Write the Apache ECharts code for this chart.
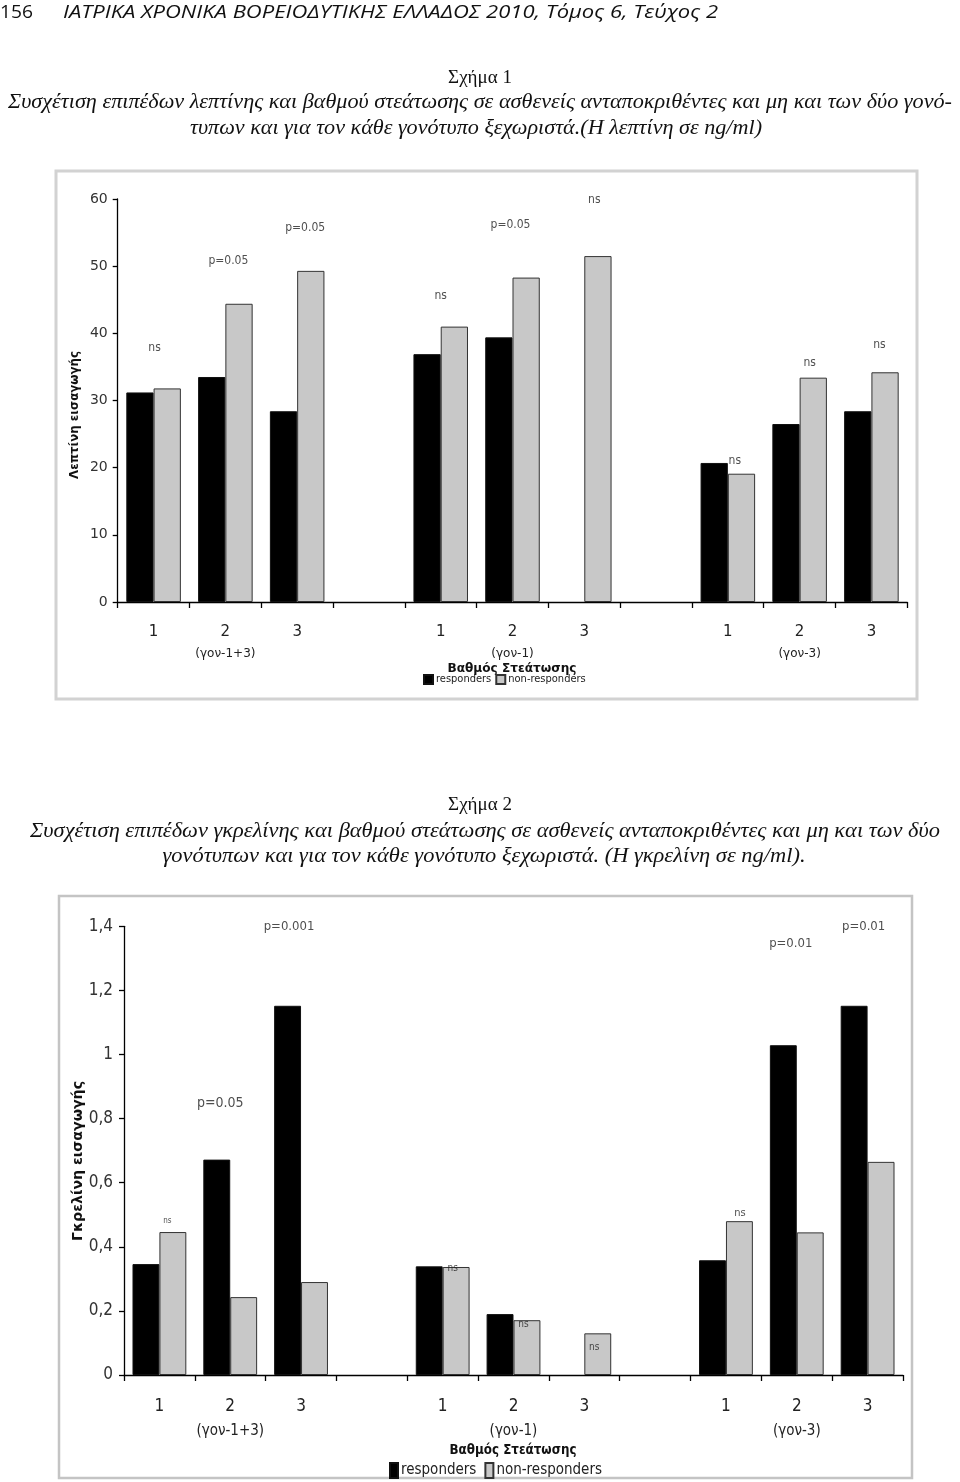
<!DOCTYPE html>
<html><head><meta charset="utf-8">
<script src="https://cdn.jsdelivr.net/npm/echarts@6.0.0/dist/echarts.min.js"></script>
<style>html,body{margin:0;padding:0;background:#fff}#c{width:960px;height:1482px}</style>
</head><body><div id="c"></div>
<script>
// ---------------- DATA ----------------
const categories = ['1','2','3','','1','2','3','','1','2','3'];
const groupLabels = ['', '(γον-1+3)', '', '', '', '(γον-1)', '', '', '', '(γον-3)', ''];
const seriesNames = ['responders', 'non-responders'];

const leptinResponders    = [31.2, 33.5, 28.4, null, 36.9, 39.4, null, null, 20.7, 26.5, 28.4];
const leptinNonResponders = [31.8, 44.4, 49.3, null, 41.0, 48.3, 51.5, null, 19.1, 33.4, 34.2];
const leptinTicks = ['0','10','20','30','40','50','60'];
const leptinNoteCats   = [0, 1, 2, 4, 5, 6, 8, 9, 10];
const leptinNoteLevels = [37.8, 50.8, 55.7, 45.6, 56.1, 59.8, 21.0, 35.6, 38.3];
const leptinNoteTexts  = ['ns','p=0.05','p=0.05','ns','p=0.05','ns','ns','ns','ns'];

const ghrelinResponders    = [0.346, 0.672, 1.152, null, 0.339, 0.190, null, null, 0.358, 1.029, 1.152];
const ghrelinNonResponders = [0.446, 0.243, 0.290, null, 0.337, 0.171, 0.130, null, 0.480, 0.445, 0.665];
const ghrelinTicks = ['0','0,2','0,4','0,6','0,8','1','1,2','1,4'];
const ghrelinNoteCats   = [0, 1, 2, 4, 5, 6, 8, 9, 10];
const ghrelinNoteLevels = [0.48, 0.849, 1.40, 0.334, 0.159, 0.087, 0.505, 1.345, 1.40];
const ghrelinNoteTexts  = ['ns','p=0.05','p=0.001','ns','ns','ns','ns','p=0.01','p=0.01'];

const pageHeader = ['156', 'ΙΑΤΡΙΚΑ ΧΡΟΝΙΚΑ ΒΟΡΕΙΟΔΥΤΙΚΗΣ ΕΛΛΑΔΟΣ 2010, Τόμος 6, Τεύχος 2'];
const caption1 = ['Σχήμα 1',
  'Συσχέτιση επιπέδων λεπτίνης και βαθμού στεάτωσης σε ασθενείς ανταποκριθέντες και μη και των δύο γονό-',
  'τυπων και για τον κάθε γονότυπο ξεχωριστά.(Η λεπτίνη σε ng/ml)'];
const caption2 = ['Σχήμα 2',
  'Συσχέτιση επιπέδων γκρελίνης και βαθμού στεάτωσης σε ασθενείς ανταποκριθέντες και μη και των δύο',
  'γονότυπων και για τον κάθε γονότυπο ξεχωριστά. (Η γκρελίνη σε ng/ml).'];
const leptinAxisName = 'Λεπτίνη εισαγωγής';
const ghrelinAxisName = 'Γκρελίνη εισαγωγής';
const xAxisName = 'Βαθμός Στεάτωσης';

// ---------------- STYLE ----------------
const NARROW = "'Liberation Sans Narrow','DejaVu Sans Condensed','Liberation Sans',sans-serif";
const SANS = "'DejaVu Sans',sans-serif";
const SERIF = "'Liberation Serif','DejaVu Serif',serif";
const BLACK = '#000000', GRAY = '#c8c8c8';
const leptinNoteDx = [1, 3, 8, 0, -2, 10, 7, 10, 8];
const leptinNoteFs = [12, 12, 12, 12, 12, 12, 12, 12, 12];
const ghrelinNoteDx = [8, -10, -12, 10, 10, 10, 14, -6, -4];
const ghrelinNoteFs = [8, 14, 13, 10, 10, 10, 11, 13, 13];

const mctx = document.createElement('canvas').getContext('2d');
function txt(text, font, x, y, align, targetW, extra) {
  mctx.font = font;
  const w = mctx.measureText(text).width;
  const s = targetW ? targetW / w : 1;
  return Object.assign({
    type: 'text', x: x, y: y, scaleX: s,
    style: { text: text, font: font, fill: '#111', align: align || 'center', verticalAlign: 'middle' }
  }, extra || {});
}

function notes(cats, levels, texts, dx, fs, xi) {
  return {
    type: 'scatter', xAxisIndex: xi, yAxisIndex: xi, symbolSize: 0, z: 10, silent: true,
    data: cats.map((c, i) => ({
      value: [c, levels[i]],
      label: { show: true, position: 'inside', formatter: texts[i], offset: [dx[i], 0],
               fontSize: fs[i], fontFamily: NARROW, color: '#222' }
    }))
  };
}

function bar(name, data, xi) {
  const isR = name === seriesNames[0];
  return {
    type: 'bar', name: name, xAxisIndex: xi, yAxisIndex: xi, data: data,
    barGap: '0%', barCategoryGap: '24%', silent: true,
    itemStyle: { color: isR ? BLACK : GRAY, borderColor: isR ? '#111' : '#333', borderWidth: 1 }
  };
}

function xAxis(gi, fsN, fsG, lh, margin, fam) {
  return {
    type: 'category', gridIndex: gi, data: categories,
    axisLine: { lineStyle: { color: '#000', width: 1.3 } },
    axisTick: { show: true, interval: 0, length: 6, lineStyle: { color: '#000', width: 1.3 } },
    axisLabel: {
      interval: 0, margin: margin,
      formatter: (v, i) => groupLabels[i] ? `{n|${v}}\n{g|${groupLabels[i]}}` : `{n|${v}}`,
      rich: {
        n: { fontSize: fsN, fontFamily: fam, color: '#222', lineHeight: lh },
        g: { fontSize: fsG, fontFamily: fam, color: '#222', lineHeight: lh }
      }
    }
  };
}

const chart = echarts.init(document.getElementById('c'), null, { renderer: 'canvas' });
const option = {
  backgroundColor: '#fff',
  animation: false,
  grid: [
    { left: 117.7, right: 52.7, top: 199, bottom: 880, containLabel: false, outerBoundsMode: 'none' },
    { left: 124, right: 57, top: 926.3, bottom: 107, containLabel: false, outerBoundsMode: 'none' }
  ],
  legend: [
    { data: seriesNames, left: 423, top: 674, itemWidth: 9, itemHeight: 9, itemGap: 4,
      textStyle: { fontSize: 11, fontFamily: NARROW, color: '#222', padding: [0, 0, 0, -2] },
      icon: 'rect', padding: 0, selectedMode: false },
    { data: seriesNames, left: 389, top: 1462, itemWidth: 8, itemHeight: 15, itemGap: 8,
      textStyle: { fontSize: 15, fontFamily: NARROW, color: '#222', padding: [0, 0, 0, -2] },
      icon: 'rect', padding: 0, selectedMode: false }
  ],
  xAxis: [
    xAxis(0, 15, 12, 21, 20, SANS),
    xAxis(1, 17, 15, 25, 19, NARROW)
  ],
  yAxis: [
    { type: 'value', gridIndex: 0, min: 0, max: 60, interval: 10,
      axisLine: { show: true, lineStyle: { color: '#000', width: 1.3 } },
      axisTick: { show: true, length: 5, lineStyle: { color: '#000', width: 1.3 } },
      splitLine: { show: false },
      axisLabel: { margin: 10, fontSize: 14, fontFamily: SANS, color: '#333',
                   formatter: v => leptinTicks[Math.round(v / 10)] } },
    { type: 'value', gridIndex: 1, min: 0, max: 1.4, interval: 0.2,
      axisLine: { show: true, lineStyle: { color: '#000', width: 1.3 } },
      axisTick: { show: true, length: 5, lineStyle: { color: '#000', width: 1.3 } },
      splitLine: { show: false },
      axisLabel: { margin: 11, fontSize: 17, fontFamily: NARROW, color: '#333',
                   formatter: v => ghrelinTicks[Math.round(v / 0.2)] } }
  ],
  series: [
    bar(seriesNames[0], leptinResponders, 0),
    bar(seriesNames[1], leptinNonResponders, 0),
    notes(leptinNoteCats, leptinNoteLevels, leptinNoteTexts, leptinNoteDx, leptinNoteFs, 0),
    bar(seriesNames[0], ghrelinResponders, 1),
    bar(seriesNames[1], ghrelinNonResponders, 1),
    notes(ghrelinNoteCats, ghrelinNoteLevels, ghrelinNoteTexts, ghrelinNoteDx, ghrelinNoteFs, 1)
  ],
  graphic: [
    { type: 'rect', shape: { x: 56, y: 171, width: 861, height: 528 }, silent: true,
      style: { fill: 'none', stroke: '#d2d2d2', lineWidth: 3 }, z: -1 },
    { type: 'rect', shape: { x: 59, y: 896, width: 853, height: 582 }, silent: true,
      style: { fill: 'none', stroke: '#c4c4c4', lineWidth: 2.5 }, z: -1 },
    txt(pageHeader[0], "18px 'Open Sans',sans-serif", 0, 13, 'left', 33),
    txt(pageHeader[1], "italic 18px 'Open Sans',sans-serif", 63, 13, 'left', 655),
    txt(caption1[0], "19px " + SERIF, 480, 78, 'center'),
    txt(caption1[1], "italic 20px " + SERIF, 480, 103, 'center', 944),
    txt(caption1[2], "italic 20px " + SERIF, 476, 129, 'center', 572),
    txt(caption2[0], "19px " + SERIF, 480, 805, 'center'),
    txt(caption2[1], "italic 20px " + SERIF, 485, 832, 'center', 910),
    txt(caption2[2], "italic 20px " + SERIF, 484, 857, 'center', 643),
    txt(xAxisName, "bold 13px " + NARROW, 512, 669, 'center', 129),
    txt(xAxisName, "bold 14px " + NARROW, 513, 1450, 'center', 127),
    txt(leptinAxisName, "bold 13px " + NARROW, 75, 415, 'center', 128, { rotation: Math.PI / 2 }),
    txt(ghrelinAxisName, "bold 14px " + NARROW, 78, 1161, 'center', 160, { rotation: Math.PI / 2 })
  ]
};
chart.setOption(option);
</script>
</body></html>
